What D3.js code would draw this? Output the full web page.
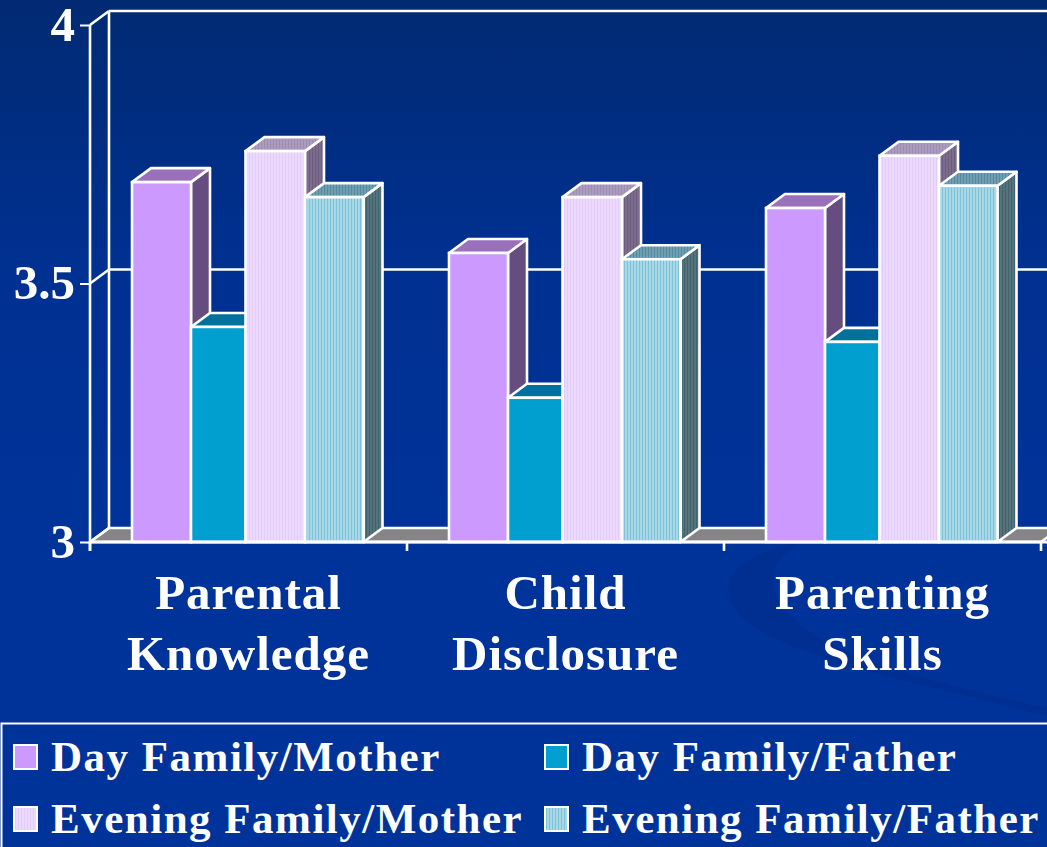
<!DOCTYPE html>
<html><head><meta charset="utf-8">
<script src="https://cdn.jsdelivr.net/npm/d3@7"></script>
<style>html,body{margin:0;padding:0;background:#00339a;overflow:hidden}svg{display:block}text{font-family:"Liberation Serif",serif;font-weight:bold;fill:#fff}</style>
</head><body><svg id="c" width="1047" height="847"></svg>
<script>
const categories = [["Parental","Knowledge"],["Child","Disclosure"],["Parenting","Skills"]];
const seriesNames = ["Day Family/Mother","Day Family/Father","Evening Family/Mother","Evening Family/Father"];
const dayMother = [3.696,3.559,3.646];
const dayFather = [3.416,3.279,3.387];
const eveningMother = [3.756,3.667,3.747];
const eveningFather = [3.667,3.547,3.689];
const yTicks = [3,3.5,4];
const seriesValues = [dayMother,dayFather,eveningMother,eveningFather];

const svg = d3.select("#c");
const defs = svg.append("defs");
const bg = defs.append("linearGradient").attr("id","bg").attr("x1",0).attr("x2",0).attr("y1",0).attr("y2",1);
bg.append("stop").attr("offset","0").attr("stop-color","#012a72");
bg.append("stop").attr("offset",".3").attr("stop-color","#003090");
bg.append("stop").attr("offset",".62").attr("stop-color","#003399");
function stripes(id,a,b){
  const p = defs.append("pattern").attr("id",id).attr("width",3).attr("height",2).attr("patternUnits","userSpaceOnUse");
  p.append("rect").attr("width",3).attr("height",2).attr("fill",a);
  p.append("rect").attr("width",1).attr("height",2).attr("fill",b);
}
stripes("pm","#ecd9fd","#e2cdf8");
stripes("pf","#a8d8e6","#7cc3da");
stripes("pmTop","#ab9bbd","#9d8cb3");
stripes("pfTop","#6f9eb0","#558aa0");
stripes("pmSide","#7d6d8c","#6c5c80");
stripes("pfSide","#56737c","#40636c");

const faces = [
 {front:"#cc99ff",top:"#9a70bb",side:"#664d80"},
 {front:"#009fcf",top:"#00709c",side:"#005070"},
 {front:"url(#pm)",top:"url(#pmTop)",side:"url(#pmSide)"},
 {front:"url(#pf)",top:"url(#pfTop)",side:"url(#pfSide)"}
];

svg.append("rect").attr("width",1047).attr("height",847).attr("fill","url(#bg)");
// background swoosh
svg.append("path").attr("fill","#002a85").attr("opacity",.4)
 .attr("d","M800,543 C745,552 715,575 735,610 C765,650 880,675 1047,716 L1047,708 C930,680 830,660 785,610 C765,585 770,560 800,543 Z");

const x = d3.scaleBand().domain(d3.range(categories.length)).range([90,1041]);
const y = d3.scaleLinear().domain([3,4]).range([542,25]);
const dx = 19, dy = -14;
const barX = d3.scaleOrdinal().domain(d3.range(4)).range([42,101,155.5,215]);
const barW = d3.scaleOrdinal().domain(d3.range(4)).range([59,54.5,59.5,58.5]);
const W = "#fff", SW = 2.6;

// floor
const x0=x.range()[0], x1=x.range()[1];
svg.append("path").attr("fill","#858585").attr("stroke",W).attr("stroke-width",SW)
 .attr("d",`M${x0},${y(3)}L${x0+dx},${y(3)+dy}L${x1+dx},${y(3)+dy}L${x1},${y(3)}Z`);
// back wall
const wall = svg.append("g").attr("stroke",W).attr("fill","none");
wall.selectAll("line.g").data(yTicks.slice(1)).join("line")
  .attr("x1",x0+dx).attr("x2",1047).attr("y1",d=>y(d)+dy).attr("y2",d=>y(d)+dy).attr("stroke-width",SW);
wall.selectAll("line.d").data(yTicks).join("line")
  .attr("x1",x0).attr("x2",x0+dx).attr("y1",d=>y(d)).attr("y2",d=>y(d)+dy).attr("stroke-width",SW);
wall.append("line").attr("x1",x0+dx).attr("x2",x0+dx).attr("y1",y(4)+dy).attr("y2",y(3)+dy).attr("stroke-width",SW);

// bars
categories.forEach((c,ci)=>{
  seriesValues.forEach((vals,si)=>{
    const g = svg.append("g").attr("class","bar");
    const L = x(ci)+barX(si), w = barW(si), R = L+w, T = y(vals[ci]), B = y(3);
    g.append("path").attr("fill",faces[si].side).attr("stroke",W).attr("stroke-width",SW).attr("stroke-linejoin","round")
     .attr("d",`M${R},${T}L${R+dx},${T+dy}L${R+dx},${B+dy}L${R},${B}Z`);
    g.append("path").attr("fill",faces[si].top).attr("stroke",W).attr("stroke-width",SW).attr("stroke-linejoin","round")
     .attr("d",`M${L},${T}L${L+dx},${T+dy}L${R+dx},${T+dy}L${R},${T}Z`);
    g.append("rect").attr("x",L).attr("y",T).attr("width",w).attr("height",B-T)
     .attr("fill",faces[si].front).attr("stroke",W).attr("stroke-width",SW);
  });
});

// y axis
const ya = svg.append("g").attr("transform",`translate(${x0},0)`)
  .call(d3.axisLeft(y).tickValues(yTicks).tickFormat(d3.format("~g")).tickSize(10).tickPadding(5));
ya.select(".domain").attr("stroke",W).attr("stroke-width",SW).attr("d",`M0,${y(4)}V${y(3)+9}`);
ya.selectAll(".tick line").attr("stroke",W).attr("stroke-width",2);
ya.selectAll(".tick text").attr("fill",W).attr("font-size",49).attr("font-family","Liberation Serif").attr("font-weight","bold").attr("dy",".31em");
// x axis
const xa = svg.append("g").attr("transform",`translate(0,${y(3)})`);
xa.append("line").attr("x1",x0).attr("x2",1047).attr("stroke",W).attr("stroke-width",3);
xa.selectAll("line.t").data(d3.range(categories.length+1)).join("line").attr("class","t")
  .attr("x1",d=>x0+d*x.step()).attr("x2",d=>x0+d*x.step()).attr("y1",0).attr("y2",9).attr("stroke",W).attr("stroke-width",SW);
const labs = svg.append("g").selectAll("g").data(categories).join("g")
  .attr("transform",(d,i)=>`translate(${x(i)+x.bandwidth()/2},0)`);
labs.each(function(d){
  d3.select(this).selectAll("text").data(d).join("text").attr("text-anchor","middle")
   .attr("y",(t,i)=>609+i*61).attr("font-size",49).attr("letter-spacing",1).text(t=>t);
});

// legend
svg.append("path").attr("fill","none").attr("stroke",W).attr("stroke-width",2).attr("d","M1.5,847V723.5H1047");
const legX = d3.scaleOrdinal().domain([0,1]).range([13,544]);
const legY = d3.scaleOrdinal().domain([0,1]).range([744,806]);
const leg = svg.append("g").selectAll("g").data(seriesNames).join("g");
leg.append("rect").attr("x",(d,i)=>legX(i%2)+1).attr("y",(d,i)=>legY(i>>1)+1).attr("width",23).attr("height",24)
   .attr("fill",(d,i)=>faces[i].front).attr("stroke",W).attr("stroke-width",2);
leg.append("text").attr("x",(d,i)=>legX(i%2)+38).attr("y",(d,i)=>legY(i>>1)+27)
   .attr("font-size",43).attr("letter-spacing",1.5).text(d=>d);
</script></body></html>
